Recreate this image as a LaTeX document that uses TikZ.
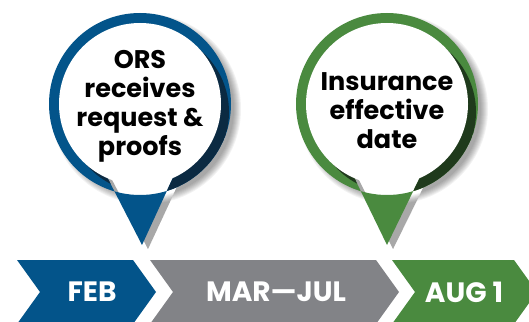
\documentclass[tikz,border=0pt]{standalone}
\usepackage{fontspec}
\setmainfont{Poppins}
\definecolor{orsblue}{HTML}{03548A}
\definecolor{orsdark}{HTML}{0B2A42}
\definecolor{stepgray}{HTML}{828387}
\definecolor{effgreen}{HTML}{4A8A3F}
\definecolor{effdark}{HTML}{1F3A1C}
\begin{document}
\begin{tikzpicture}[x=1pt, y=1pt, line join=round,
		pintext/.style={font=\fontsize{25.5}{29}\selectfont\bfseries, align=center, text=black},
		steptext/.style={font=\fontsize{28}{30}\selectfont\bfseries, text=white}]
	\useasboundingbox (0,0) rectangle (529,321);
	% timeline arrows
	\foreach \a/\b/\c/\m/\n/\t in {17/133/orsblue/92/feb/FEB, 150/376/stepgray/276/marjul/MAR—JUL, 392/514/effgreen/464/aug/AUG 1}{
		\fill[\c] (\a,61) -- (\b,61) -- (\b+23,29) -- (\b,-3) -- (\a,-3) -- (\a+23,29) -- cycle;
		\node[steptext] (\n) at (\m,29) {\t};}
	% pins
	\foreach \x/\p/\c/\d/\y/\n/\t in {140/142/orsblue/orsdark/215/ors/{ORS\\receives\\request \&\\proofs},
		387/387/effgreen/effdark/210/eff/{Insurance\\effective\\date}}{
		\foreach \k in {0,...,7}
			\fill[black, opacity=0.05] (\x+6,212) circle ({88+\k}) (\x-30,145) -- (\x+42,145) -- (\p+6,72) -- cycle;
		\fill[\c] (\x,217) circle (91) (\x-36,150) -- (\x+36,150) -- (\p,76) -- cycle;
		\begin{scope}
			\clip (\x,217) circle (91) (\x-36,150) -- (\x+36,150) -- (\p,76) -- cycle;
			\fill[\d] (\x+8,209) circle (81);
		\end{scope}
		\fill[white] (\x,217) circle (81);
		\node[pintext] (\n) at (\x,\y) {\t};}
\end{tikzpicture}
\end{document}
